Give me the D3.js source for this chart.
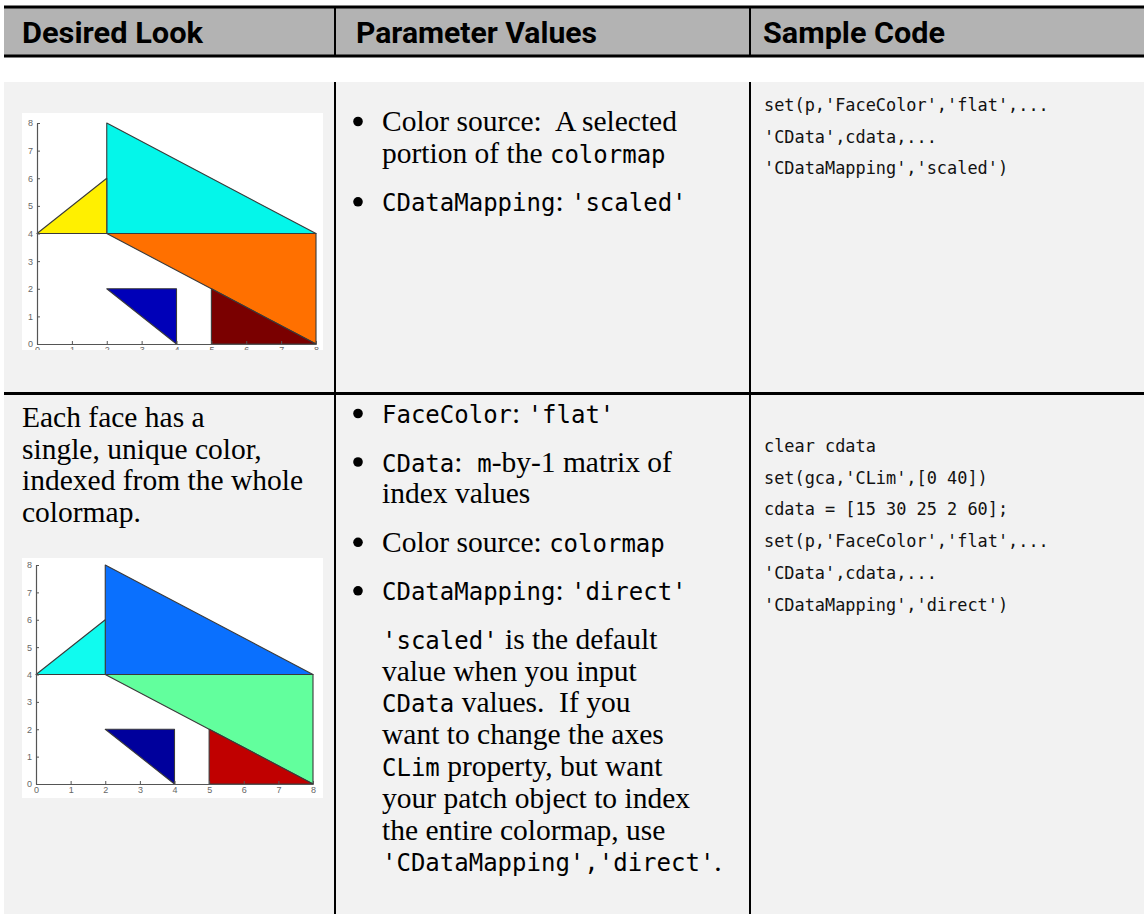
<!DOCTYPE html>
<html><head><meta charset="utf-8">
<script src="https://cdn.jsdelivr.net/npm/d3@7"></script>
<style>html,body{margin:0;padding:0;background:#fff;} svg{display:block} text{white-space:pre}</style>
</head><body><svg id="c" width="1144" height="914"></svg>
<script>
// ---------- data ----------
const headers = ["Desired Look", "Parameter Values", "Sample Code"];
const tickValues = [0, 1, 2, 3, 4, 5, 6, 7, 8];
const faceVertices = [
  [[2, 4], [2, 8], [8, 4]],
  [[2, 4], [8, 4], [8, 0], [5, 2]],
  [[0, 4], [2, 4], [2, 6]],
  [[2, 2], [4, 2], [4, 0]],
  [[5, 0], [5, 2], [8, 0]]
];
const cdata = [15, 30, 25, 2, 60];
const scaledColors = ["#04f6ea", "#ff7000", "#fff000", "#0000b8", "#7a0000"];
const directColors = ["#0a70fe", "#62ff9d", "#10fbef", "#00009c", "#c00000"];

const row1Params = [
  {bullet: true, lines: [[["s", "Color source:  A selected"]], [["s", "portion of the "], ["m", "colormap"]]]},
  {bullet: true, lines: [[["m", "CDataMapping"], ["s", ": "], ["m", "'scaled'"]]]}
];
const row1Code = ["set(p,'FaceColor','flat',...", "'CData',cdata,...", "'CDataMapping','scaled')"];
const row2Look = ["Each face has a", "single, unique color,", "indexed from the whole", "colormap."];
const row2Params = [
  {bullet: true, lines: [[["m", "FaceColor"], ["s", ": "], ["m", "'flat'"]]]},
  {bullet: true, lines: [[["m", "CData"], ["s", ":  "], ["m", "m"], ["s", "-by-1 matrix of"]], [["s", "index values"]]]},
  {bullet: true, lines: [[["s", "Color source: "], ["m", "colormap"]]]},
  {bullet: true, lines: [[["m", "CDataMapping"], ["s", ": "], ["m", "'direct'"]]]},
  {bullet: false, lines: [
    [["m", "'scaled'"], ["s", " is the default"]],
    [["s", "value when you input"]],
    [["m", "CData"], ["s", " values.  If you"]],
    [["s", "want to change the axes"]],
    [["m", "CLim"], ["s", " property, but want"]],
    [["s", "your patch object to index"]],
    [["s", "the entire colormap, use"]],
    [["m", "'CDataMapping','direct'"], ["s", "."]]
  ]}
];
const row2Code = ["clear cdata", "set(gca,'CLim',[0 40])", "cdata = [15 30 25 2 60];",
  "set(p,'FaceColor','flat',...", "'CData',cdata,...", "'CDataMapping','direct')"];

// ---------- layout ----------
const svg = d3.select("#c");
const W = 1144, H = 914;
const colX = [335, 750];
const SERIF = "'Liberation Serif', 'Times New Roman', serif";
const MONO = "'DejaVu Sans Mono', monospace";
const fonts = {s: {f: SERIF, size: 29.5}, m: {f: MONO, size: 24}};

// header
svg.append("rect").attr("x", 4).attr("y", 7).attr("width", W - 4).attr("height", 49).attr("fill", "#b3b3b3");
svg.append("rect").attr("x", 4).attr("y", 5.5).attr("width", W - 4).attr("height", 3).attr("fill", "#000");
svg.append("rect").attr("x", 4).attr("y", 54.5).attr("width", W - 4).attr("height", 3).attr("fill", "#000");
const headerPos = [{x: 22, w: 181}, {x: 356, w: 241}, {x: 763, w: 182}];
headers.forEach((h, i) => {
  svg.append("text").attr("x", headerPos[i].x).attr("y", 43)
    .attr("font-family", "Roboto, 'Open Sans', sans-serif").attr("font-weight", 700)
    .attr("font-size", 29).attr("textLength", headerPos[i].w).attr("lengthAdjust", "spacingAndGlyphs")
    .attr("fill", "#000").text(h);
});

// rows background
svg.append("rect").attr("x", 4).attr("y", 82).attr("width", W - 4).attr("height", 311).attr("fill", "#f2f2f2");
svg.append("rect").attr("x", 4).attr("y", 395).attr("width", W - 4).attr("height", H - 395).attr("fill", "#f2f2f2");
svg.append("rect").attr("x", 4).attr("y", 392).attr("width", W - 4).attr("height", 3).attr("fill", "#000");
colX.forEach(x => {
  svg.append("rect").attr("x", x - 1).attr("y", 7).attr("width", 2).attr("height", 48).attr("fill", "#000");
  svg.append("rect").attr("x", x - 1).attr("y", 82).attr("width", 2).attr("height", H - 82).attr("fill", "#000");
});

// ---------- helpers ----------
function drawLine(g, x, y, segs) {
  const t = g.append("text").attr("x", x).attr("y", y).attr("fill", "#000");
  segs.forEach(([k, s]) => {
    t.append("tspan").attr("font-family", fonts[k].f).attr("font-size", fonts[k].size).text(s);
  });
}
function drawParams(items, startY) {
  let y = startY;
  items.forEach((it, idx) => {
    if (it.bullet) {
      svg.append("circle").attr("cx", 358).attr("cy", y - 9.5).attr("r", 4.8).attr("fill", "#000");
    }
    it.lines.forEach((ln, j) => {
      drawLine(svg, 382, y, ln);
      y += (j < it.lines.length - 1) ? 31.8 : 0;
    });
    y += 48.5;
  });
}
function drawCode(lines, startY) {
  lines.forEach((l, i) => {
    svg.append("text").attr("x", 764).attr("y", startY + i * 31.7)
      .attr("font-family", MONO).attr("font-size", 16.9).attr("fill", "#111").text(l);
  });
}
function drawPlot(img, ax, colors, id) {
  const g = svg.append("g");
  const clip = svg.append("clipPath").attr("id", id);
  clip.append("rect").attr("x", img.x0).attr("y", img.y0).attr("width", img.x1 - img.x0).attr("height", img.y1 - img.y0);
  g.attr("clip-path", `url(#${id})`);
  g.append("rect").attr("x", img.x0).attr("y", img.y0).attr("width", img.x1 - img.x0).attr("height", img.y1 - img.y0).attr("fill", "#fff");
  const x = d3.scaleLinear().domain([0, 8]).range([ax.x0, ax.x1]);
  const y = d3.scaleLinear().domain([0, 8]).range([ax.y0, ax.y1]);
  const line = d3.line().x(d => x(d[0])).y(d => y(d[1]));
  g.selectAll("path.face").data(faceVertices).join("path").attr("class", "face")
    .attr("d", d => line(d) + "Z")
    .attr("fill", (d, i) => colors[i])
    .attr("stroke", "#3a3a3a").attr("stroke-width", 1.1).attr("stroke-linejoin", "round");
  const xa = g.append("g").attr("transform", `translate(0,${ax.y0})`)
    .call(d3.axisBottom(x).tickValues(tickValues).tickSizeInner(-3).tickSizeOuter(0).tickPadding(4).tickFormat(d3.format("d")));
  const ya = g.append("g").attr("transform", `translate(${ax.x0},0)`)
    .call(d3.axisLeft(y).tickValues(tickValues).tickSizeInner(-3).tickSizeOuter(0).tickPadding(4).tickFormat(d3.format("d")));
  [xa, ya].forEach(a => {
    a.select(".domain").attr("stroke", "#555").attr("stroke-width", 1.2);
    a.selectAll(".tick line").attr("stroke", "#555");
    a.selectAll(".tick text").attr("fill", "#666").attr("font-size", 9).attr("font-family", "'Liberation Sans', Arial, sans-serif");
  });
  xa.selectAll(".tick text").attr("dy", "0.55em");
}

// ---------- row 1 ----------
drawPlot({x0: 22, y0: 113, x1: 323, y1: 350}, {x0: 37, x1: 316, y0: 344, y1: 123}, scaledColors, "clip1");
drawParams(row1Params, 131);
drawCode(row1Code, 111);

// ---------- row 2 ----------
row2Look.forEach((l, i) => {
  svg.append("text").attr("x", 22).attr("y", 427 + i * 31.7)
    .attr("font-family", SERIF).attr("font-size", 29.5).attr("fill", "#000").text(l);
});
drawPlot({x0: 22, y0: 558, x1: 323, y1: 798}, {x0: 36, x1: 313, y0: 784, y1: 565}, directColors, "clip2");
drawParams(row2Params, 423);
drawCode(row2Code, 452);
</script></body></html>
